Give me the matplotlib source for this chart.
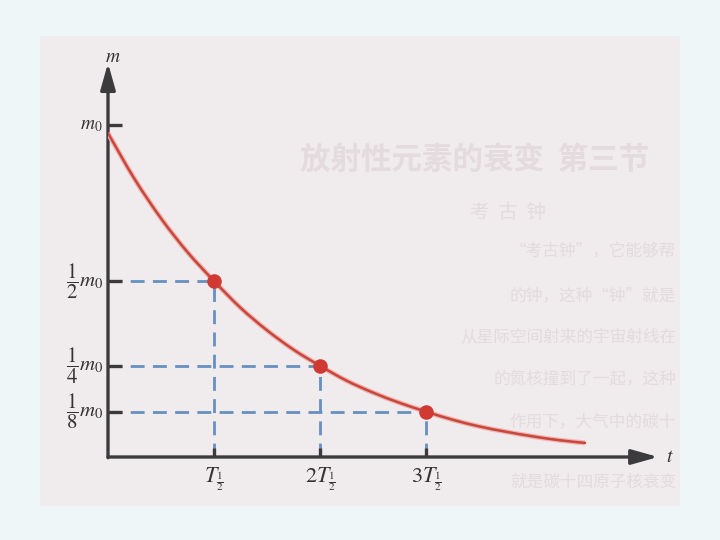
import matplotlib
matplotlib.use("Agg")
import matplotlib.pyplot as plt
from matplotlib.patches import Rectangle, PathPatch
from matplotlib.path import Path

plt.rcParams['mathtext.fontset'] = 'stix'
plt.rcParams['font.family'] = ['Liberation Serif', 'DejaVu Serif']

# ---- data (t in units of half-life T1/2, m relative) ----
curve_t = [0, 0.25, 0.5, 0.75, 1, 1.25, 1.5, 1.75, 2, 2.25, 2.5, 2.75, 3,
           3.25, 3.5, 3.75, 4, 4.25, 4.5]
curve_m = [0.920, 0.790, 0.678, 0.582, 0.500, 0.424, 0.360, 0.305, 0.259,
           0.217, 0.183, 0.154, 0.129, 0.106, 0.087, 0.072, 0.059, 0.048, 0.040]
point_t = [1, 2, 3]
point_m = [0.500, 0.259, 0.129]
m0_level = 0.943
y_tick_vals = [m0_level] + point_m
y_tick_labels = [r'$m_0$', r'$\dfrac{1}{2}m_0$', r'$\dfrac{1}{4}m_0$', r'$\dfrac{1}{8}m_0$']
x_tick_vals = point_t
x_tick_labels = [r'$T_{\frac{1}{2}}$', r'$2T_{\frac{1}{2}}$', r'$3T_{\frac{1}{2}}$']
# faint show-through text of the scanned page (x, y in pixels, text, size)
bg_lines = [
    (300, 160, '放射性元素的衰变  第三节', 22, 'left'),
    (470, 212, '考  古  钟', 14, 'left'),
    (676, 252, '“考古钟”，它能够帮', 12, 'right'),
    (676, 296, '的钟，这种“钟”就是', 12, 'right'),
    (676, 338, '从星际空间射来的宇宙射线在', 12, 'right'),
    (676, 380, '的氮核撞到了一起，这种', 12, 'right'),
    (676, 422, '作用下，大气中的碳十', 12, 'right'),
    (676, 482, '就是碳十四原子核衰变', 12, 'right'),
]

W, H = 720, 540
fig = plt.figure(figsize=(7.2, 5.4), dpi=100)
fig.patch.set_facecolor('#eef6f8')

# paper
bg = fig.add_axes([0, 0, 1, 1])
bg.set_xlim(0, W); bg.set_ylim(H, 0); bg.axis('off')
bg.add_patch(Rectangle((40, 36), 640, 470, facecolor='#f0ebed', edgecolor='none'))
for i, (x, y, s, fs, ha) in enumerate(bg_lines):
    bg.text(x, y, s, ha=ha, va='center', fontsize=fs, color='#e3dbde',
            family=['Noto Sans CJK SC'], fontweight='bold' if i == 0 else 'normal')

# main axes: x=0 -> px 108, y=0 -> px 457
x0px, y0px = 108, 457
tpx, mpx = 106.0, 352.0
xmax = (668 - x0px) / tpx
ymax = (y0px - 50) / mpx
ax = fig.add_axes([x0px / W, (H - y0px) / H, (668 - x0px) / W, (y0px - 50) / H])
ax.set_xlim(0, xmax); ax.set_ylim(0, ymax)
ax.axis('off')
ax.patch.set_alpha(0)

axis_col = '#3b3b3d'
dash_col = '#6690c0'
red = '#c9463c'

# dashed guide lines
for t, m in zip(point_t, point_m):
    ax.plot([0, t], [m, m], color=dash_col, lw=2.0, dashes=(5, 3), zorder=2)
    ax.plot([t, t], [0, m], color=dash_col, lw=2.0, dashes=(5, 3), zorder=2)

# axes with arrows
ax.annotate('', xy=(5.19, 0), xytext=(0, 0),
            arrowprops=dict(arrowstyle='-|>,head_length=1.6,head_width=0.45',
                            color=axis_col, lw=2.4, shrinkA=0, shrinkB=0), zorder=4)
ax.annotate('', xy=(0, (y0px - 63) / mpx), xytext=(0, -0.002),
            arrowprops=dict(arrowstyle='-|>,head_length=1.6,head_width=0.45',
                            color=axis_col, lw=2.4, shrinkA=0, shrinkB=0), zorder=4)

# y tick marks + labels
for v, lab in zip(y_tick_vals, y_tick_labels):
    ax.plot([0, 14 / tpx], [v, v], color=axis_col, lw=2.4, zorder=4, solid_capstyle='butt')
    ax.text(-5 / tpx, v, lab, ha='right', va='center', fontsize=15 if lab != r'$m_0$' else 14,
            color='#333333')

# x tick marks + labels
for v, lab in zip(x_tick_vals, x_tick_labels):
    ax.plot([v, v], [0, 9 / mpx], color=axis_col, lw=2.4, zorder=4, solid_capstyle='butt')
    ax.text(v, -8 / mpx, lab, ha='center', va='top', fontsize=16, color='#333333')

# axis names
ax.text(0.05, (y0px - 57) / mpx, r'$m$', ha='center', va='center', fontsize=14, color='#333333')
ax.text(5.3, 0.0, r'$t$', ha='center', va='center', fontsize=14, color='#333333', clip_on=False)

# decay curve: smooth Bezier path through the read points (Catmull-Rom handles)
pts = list(zip(curve_t, curve_m))
verts = [pts[0]]
codes = [Path.MOVETO]
for i in range(len(pts) - 1):
    p0 = pts[max(i - 1, 0)]
    p1 = pts[i]
    p2 = pts[i + 1]
    p3 = pts[min(i + 2, len(pts) - 1)]
    c1 = (p1[0] + (p2[0] - p0[0]) / 6, p1[1] + (p2[1] - p0[1]) / 6)
    c2 = (p2[0] - (p3[0] - p1[0]) / 6, p2[1] - (p3[1] - p1[1]) / 6)
    verts += [c1, c2, p2]
    codes += [Path.CURVE4] * 3
ax.add_patch(PathPatch(Path(verts, codes), facecolor='none', edgecolor='#eeb4ae', lw=3.6, zorder=5))
ax.add_patch(PathPatch(Path(verts, codes), facecolor='none', edgecolor=red, lw=1.8, zorder=5,
                       capstyle='round'))
ax.scatter(point_t, point_m, s=110, color='#d03a33', zorder=6, linewidths=0)

fig.savefig('out.png', dpi=100, facecolor=fig.get_facecolor())
